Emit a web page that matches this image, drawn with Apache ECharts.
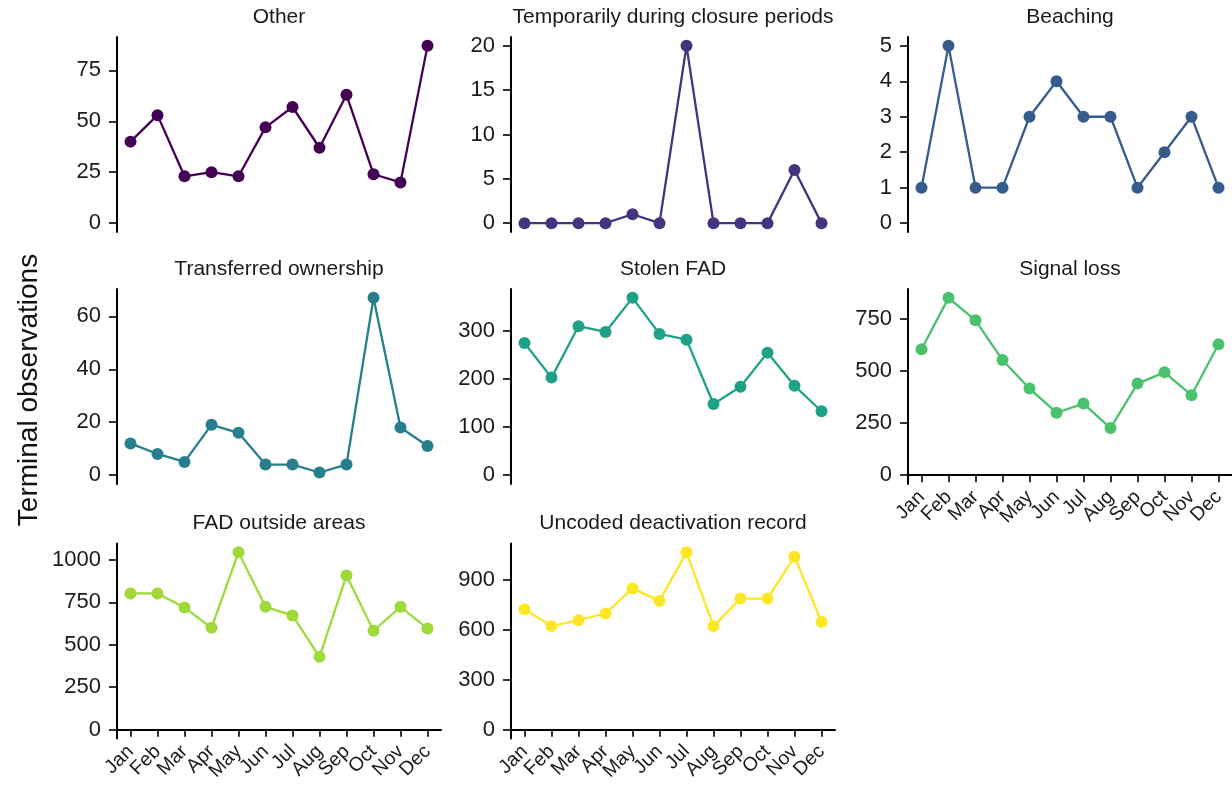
<!DOCTYPE html>
<html><head><meta charset="utf-8">
<script src="https://cdn.jsdelivr.net/npm/echarts@6/dist/echarts.min.js"></script>
<style>html,body{margin:0;padding:0;background:#fff}#c{width:1232px;height:790px}</style>
</head><body><div id="c"></div>
<script>
const months = ['Jan','Feb','Mar','Apr','May','Jun','Jul','Aug','Sep','Oct','Nov','Dec'];
const panelTitles = ['Other','Temporarily during closure periods','Beaching','Transferred ownership','Stolen FAD','Signal loss','FAD outside areas','Uncoded deactivation record'];
const colors = ['#440154','#46337E','#365C8D','#277F8E','#1FA187','#4AC16D','#9FDA3A','#FDE725'];

const other        = [40, 53, 23, 25, 23, 47, 57, 37, 63, 24, 20, 87];
const temporarily  = [0, 0, 0, 0, 1, 0, 20, 0, 0, 0, 6, 0];
const beaching     = [1, 5, 1, 1, 3, 4, 3, 3, 1, 2, 3, 1];
const transferred  = [12, 8, 5, 19, 16, 4, 4, 1, 4, 67, 18, 11];
const stolen       = [275, 203, 310, 298, 369, 294, 282, 148, 184, 255, 186, 133];
const signalLoss   = [605, 852, 744, 553, 416, 300, 344, 226, 440, 494, 384, 629];
const fadOutside   = [803, 803, 720, 600, 1045, 724, 673, 429, 909, 583, 724, 596];
const uncoded      = [725, 623, 659, 699, 850, 775, 1067, 623, 789, 789, 1041, 649];

const ticksOther       = [0, 25, 50, 75];
const ticksTemporarily = [0, 5, 10, 15, 20];
const ticksBeaching    = [0, 1, 2, 3, 4, 5];
const ticksTransferred = [0, 20, 40, 60];
const ticksStolen      = [0, 100, 200, 300];
const ticksSignalLoss  = [0, 250, 500, 750];
const ticksFadOutside  = [0, 250, 500, 750, 1000];
const ticksUncoded     = [0, 300, 600, 900];

const seriesData = [other, temporarily, beaching, transferred, stolen, signalLoss, fadOutside, uncoded];
const tickSets = [ticksOther, ticksTemporarily, ticksBeaching, ticksTransferred, ticksStolen, ticksSignalLoss, ticksFadOutside, ticksUncoded];

const colLeft = [117, 511, 908];
const rowTop = [37, 289, 543.5];
const panelW = 324, panelH = 195;
const bottomPanels = [5, 6, 7];
const FONT = '"Liberation Sans", Arial, Helvetica, sans-serif';

const grids = [], xAxes = [], yAxes = [], series = [], graphics = [];
seriesData.forEach((d, i) => {
  const r = Math.floor(i / 3), c = i % 3;
  grids.push({left: colLeft[c], top: rowTop[r], width: panelW, height: panelH, containLabel: false});
  const mx = Math.max(...d);
  const isBottom = bottomPanels.includes(i);
  xAxes.push({
    type: 'category', gridIndex: i, data: months, boundaryGap: true,
    show: isBottom,
    axisLine: {show: isBottom, lineStyle: {color: '#000', width: 2}},
    axisTick: {show: isBottom, alignWithLabel: true, length: 7, lineStyle: {color: '#000', width: 1.6}},
    axisLabel: {show: isBottom, rotate: 45, fontSize: 19.5, color: '#1a1a1a', fontFamily: FONT, margin: 10, interval: 0},
    splitLine: {show: false}
  });
  yAxes.push({
    type: 'value', gridIndex: i, min: -0.05 * mx, max: 1.05 * mx,
    axisLine: {show: true, onZero: false, lineStyle: {color: '#000', width: 2}},
    axisTick: {show: true, length: 8, customValues: tickSets[i], lineStyle: {color: '#000', width: 1.6}},
    axisLabel: {show: true, customValues: tickSets[i], fontSize: 22, color: '#1a1a1a', fontFamily: FONT, margin: 16,
      formatter: v => String(v)},
    splitLine: {show: false}
  });
  series.push({
    type: 'line', xAxisIndex: i, yAxisIndex: i, data: d,
    symbol: 'circle', symbolSize: 12, showSymbol: true,
    lineStyle: {color: colors[i], width: 2.3}, itemStyle: {color: colors[i]},
    animation: false, clip: false
  });
  graphics.push({
    type: 'text', x: colLeft[c] + panelW / 2, y: rowTop[r] - 20,
    style: {text: panelTitles[i], fontSize: 21, fontFamily: FONT, fill: '#1a1a1a', align: 'center', verticalAlign: 'middle'}
  });
});
graphics.push({
  type: 'text', x: 29, y: 390, rotation: Math.PI / 2,
  style: {text: 'Terminal observations', fontSize: 28, fontFamily: FONT, fill: '#111', align: 'center', verticalAlign: 'middle'}
});

const chart = echarts.init(document.getElementById('c'), null, {renderer: 'canvas'});
chart.setOption({
  animation: false,
  backgroundColor: '#fff',
  grid: grids, xAxis: xAxes, yAxis: yAxes, series: series,
  graphic: graphics
});
</script></body></html>
